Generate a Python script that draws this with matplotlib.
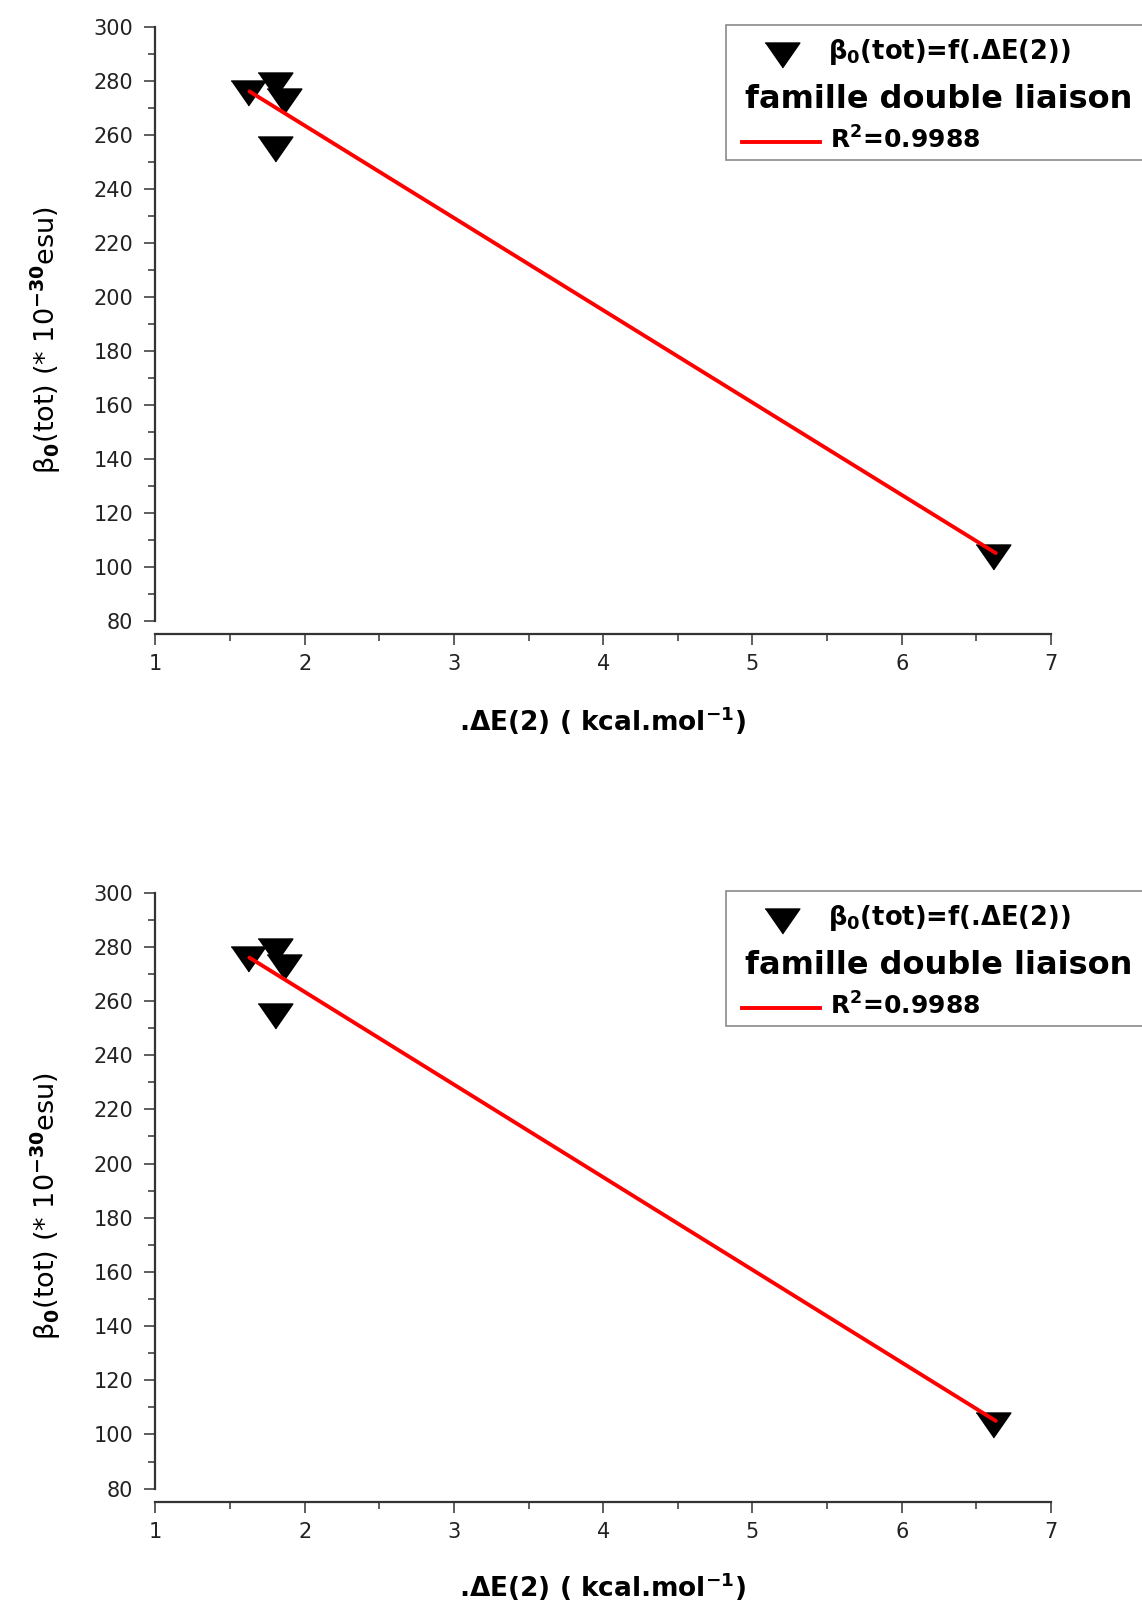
import matplotlib
matplotlib.use("Agg")
import matplotlib.pyplot as plt
from matplotlib.patches import Rectangle
from matplotlib.lines import Line2D
from matplotlib.ticker import MultipleLocator

plt.rcParams["font.family"] = "DejaVu Sans"
plt.rcParams["mathtext.fontset"] = "dejavusans"

# Points mesurés : beta0(tot) en fonction de DeltaE(2)
delta_e = [1.62, 1.80, 1.86, 1.80, 6.61]
beta_tot = [275.5, 278.5, 272.5, 254.5, 103.5]

# Droite de régression (extrémités tracées)
fit_x = [1.63, 6.63]
fit_y = [276.0, 105.0]
r2 = "0.9988"

x_ticks = [1, 2, 3, 4, 5, 6, 7]
y_ticks = [80, 100, 120, 140, 160, 180, 200, 220, 240, 260, 280, 300]

W, H = 1142, 1603
fig = plt.figure(figsize=(W / 100, H / 100), dpi=100)


def fx(x):
    return x / W


def fy(y):
    return 1 - y / H


# triangle pointe en bas, plus large que haut
tri = [(-1, 0.72), (1, 0.72), (0, -0.72)]


def panneau(top, bottom, d):
    ax = fig.add_axes([fx(155.4), fy(bottom), fx(1051) - fx(155.4), (bottom - top) / H])
    ax.set_xlim(1, 7)
    ax.set_ylim(80, 300)
    ax.plot(delta_e, beta_tot, linestyle="none", marker=tri, ms=25,
            color="black", zorder=3, clip_on=False)
    ax.plot(fit_x, fit_y, color="red", lw=2.8, zorder=4, solid_capstyle="round")

    ax.spines["top"].set_visible(False)
    ax.spines["right"].set_visible(False)
    for s in ["left", "bottom"]:
        ax.spines[s].set_color("#333333")
        ax.spines[s].set_linewidth(1.6)
    ax.spines["bottom"].set_position(("outward", 9.8))

    ax.set_xticks(x_ticks)
    ax.set_yticks(y_ticks)
    ax.xaxis.set_minor_locator(MultipleLocator(0.5))
    ax.yaxis.set_minor_locator(MultipleLocator(10))
    ax.tick_params(which="major", direction="out", length=8, width=1.1,
                   color="#333333", labelsize=15, labelcolor="#222222", pad=6)
    ax.tick_params(axis="y", which="major", pad=8)
    ax.tick_params(which="minor", direction="out", length=5, width=1.1, color="#333333")

    # titres des axes
    fig.text(fx(603), fy(721 + d), r".ΔE(2) ( kcal.mol$^{\mathbf{-1}}$)",
             fontsize=19, fontweight="bold", ha="center", va="center")
    fig.text(fx(46), fy(340 + d), r"β$_{\mathbf{0}}$(tot) (* 10$^{\mathbf{-30}}$esu)",
             fontsize=19.5, rotation=90, ha="center", va="center")

    # légende
    fig.patches.append(Rectangle((fx(726), fy(160 + d)), fx(1170) - fx(726), (135) / H,
                                 transform=fig.transFigure, facecolor="white",
                                 edgecolor="#8a8a8a", lw=1.2, zorder=5))
    fig.lines.append(Line2D([fx(782)], [fy(55 + d)], marker=tri, ms=25, color="black",
                            linestyle="none", transform=fig.transFigure, zorder=6))
    fig.text(fx(828), fy(52 + d), r"β$_{\mathbf{0}}$(tot)=f(.ΔE(2))",
             fontsize=18.5, fontweight="bold", ha="left", va="center", zorder=6)
    fig.text(fx(745), fy(99 + d), "famille double liaison",
             fontsize=23, fontweight="bold", ha="left", va="center", zorder=6)
    fig.lines.append(Line2D([fx(742), fx(820)], [fy(142 + d), fy(142 + d)], color="red",
                            lw=2.8, transform=fig.transFigure, zorder=6))
    fig.text(fx(830), fy(140 + d), r"R$^{\mathbf{2}}$=" + r2,
             fontsize=18, fontweight="bold", ha="left", va="center", zorder=6)
    return ax


panneau(26.6, 620.6, 0)
panneau(892.6, 1488.6, 866)

fig.savefig("out.png", dpi=100)
